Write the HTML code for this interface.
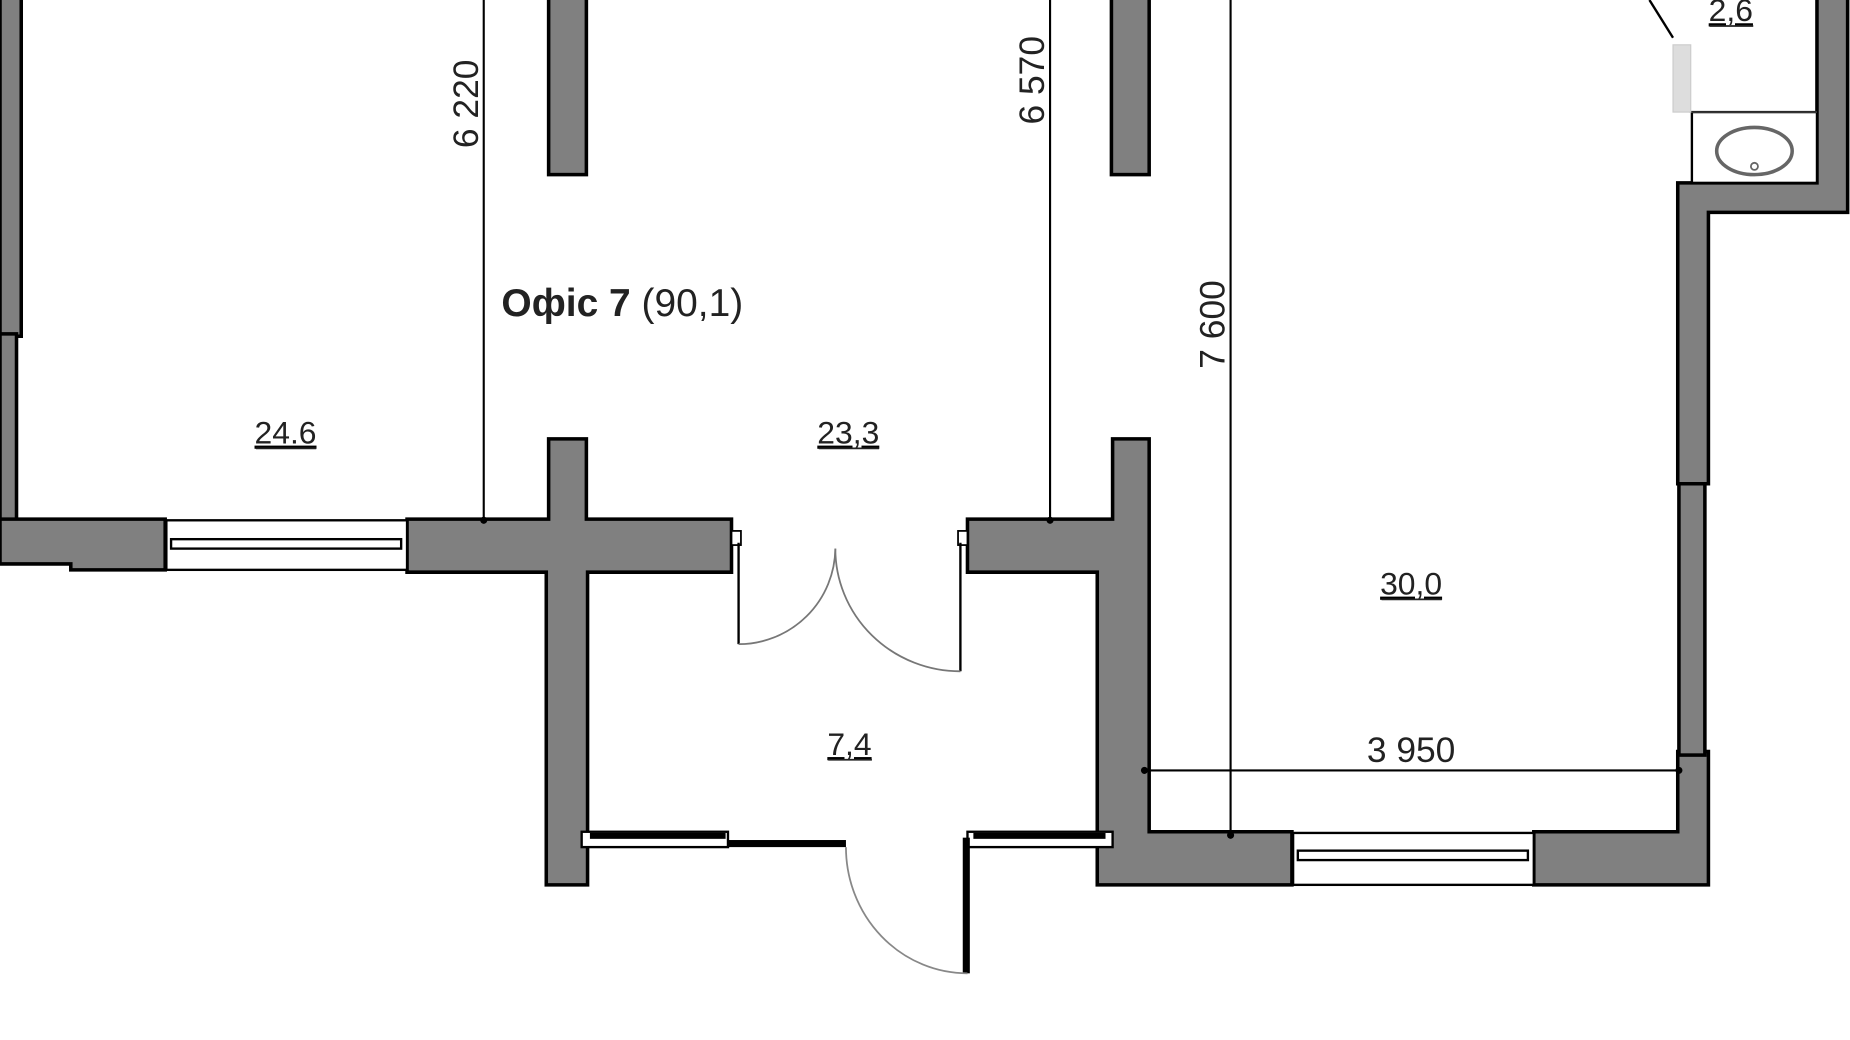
<!DOCTYPE html>
<html><head><meta charset="utf-8"><style>
html,body{margin:0;padding:0;background:#fff;width:1850px;height:1040px;overflow:hidden}
svg{display:block}
text{font-family:"Liberation Sans",sans-serif;fill:#222}
</style></head><body>
<svg width="1850" height="1040" viewBox="0 0 1568 881.5" preserveAspectRatio="none">
<g fill="#808080" stroke="#000" stroke-width="3">
<rect x="0" y="-5" width="18" height="290"/>
<rect x="0" y="283" width="14" height="160"/>
<path d="M0 440 H140 V483 H60 V478 H0 Z"/>
<path d="M345 440 H465 V372 H497 V440 H620 V485 H498 V750 H463 V485 H345 Z"/>
<rect x="465" y="-5" width="32" height="153"/>
<rect x="942" y="-5" width="32" height="153"/>
<path d="M820 440 H943 V372 H974 V705 H1095 V750 H930 V485 H820 Z"/>
<path d="M1300 705 H1422 V637 H1448 V750 H1300 Z"/>
<rect x="1423" y="408" width="22" height="232"/>
<path d="M1422 410 V155 H1540 V-5 H1566 V180 H1448 V410 Z"/>
</g>
<!-- windows -->
<g fill="#fff" stroke="#000" stroke-width="2">
<rect x="141" y="441" width="204" height="42"/>
<rect x="145" y="457" width="195" height="8"/>
<rect x="1096" y="706" width="204" height="44"/>
<rect x="1100" y="721" width="195" height="8"/>
<rect x="493" y="705" width="124" height="13"/>
<rect x="820" y="705" width="123" height="13"/>
</g>
<rect x="500" y="706" width="115" height="5" fill="#000"/>
<rect x="825" y="706" width="112" height="5" fill="#000"/>
<rect x="617" y="712" width="100" height="6" fill="#000"/>
<rect x="816" y="710" width="6" height="115" fill="#000"/>
<path d="M717 718 A103 107 0 0 0 820 825" fill="none" stroke="#888" stroke-width="1.5"/>
<!-- double door -->
<rect x="620" y="450" width="8" height="12" fill="#fff" stroke="#000" stroke-width="1.5"/>
<rect x="812" y="450" width="8" height="12" fill="#fff" stroke="#000" stroke-width="1.5"/>
<line x1="626" y1="460" x2="626" y2="546" stroke="#000" stroke-width="2"/>
<line x1="814" y1="460" x2="814" y2="569" stroke="#000" stroke-width="2"/>
<path d="M626 546 A82 82 0 0 0 708 465" fill="none" stroke="#777" stroke-width="1.5"/>
<path d="M814 569 A106 104 0 0 1 708 465" fill="none" stroke="#777" stroke-width="1.5"/>
<!-- bathroom -->
<rect x="1434" y="95" width="106" height="60" fill="#fff" stroke="#000" stroke-width="2"/>
<line x1="1432" y1="95" x2="1540" y2="95" stroke="#555" stroke-width="1"/>
<ellipse cx="1487" cy="128" rx="32" ry="20" fill="none" stroke="#666" stroke-width="3"/>
<circle cx="1487" cy="141" r="3" fill="#fff" stroke="#666" stroke-width="1.5"/>
<rect x="1418" y="38" width="15" height="57" fill="#ddd" stroke="#ccc"/>
<line x1="1398" y1="0" x2="1418" y2="32" stroke="#000" stroke-width="2"/>
<!-- dimension lines -->
<g stroke="#000" stroke-width="1.8">
<line x1="410" y1="0" x2="410" y2="443"/>
<line x1="890" y1="0" x2="890" y2="443"/>
<line x1="1043" y1="0" x2="1043" y2="710"/>
<line x1="970" y1="653" x2="1425" y2="653"/>
</g>
<g fill="#000"><circle cx="410" cy="441" r="3"/><circle cx="890" cy="441" r="3"/><circle cx="1043" cy="708" r="3"/><circle cx="970" cy="653" r="3"/><circle cx="1423" cy="653" r="3"/></g>
<g font-size="30">
<text transform="translate(405,88) rotate(-90)" text-anchor="middle">6 220</text>
<text transform="translate(885,68) rotate(-90)" text-anchor="middle">6 570</text>
<text transform="translate(1038,275) rotate(-90)" text-anchor="middle">7 600</text>
<text x="1196" y="646" text-anchor="middle">3 950</text>
</g>
<text x="425" y="268" font-size="33"><tspan font-weight="bold">Офіс 7</tspan> (90,1)</text>
<g font-size="27" text-anchor="middle" text-decoration="underline">
<text x="242" y="376">24.6</text>
<text x="719" y="376">23,3</text>
<text x="1196" y="504">30,0</text>
<text x="720" y="640">7,4</text>
<text x="1467" y="18">2,6</text>
</g>
<g stroke="#222" stroke-width="1.5">
<line x1="217" y1="380" x2="268" y2="380"/><line x1="694" y1="380" x2="745" y2="380"/>
<line x1="1171" y1="508" x2="1222" y2="508"/><line x1="702" y1="644" x2="739" y2="644"/>
<line x1="1449" y1="22" x2="1486" y2="22"/>
</g>
</svg>
</body></html>
